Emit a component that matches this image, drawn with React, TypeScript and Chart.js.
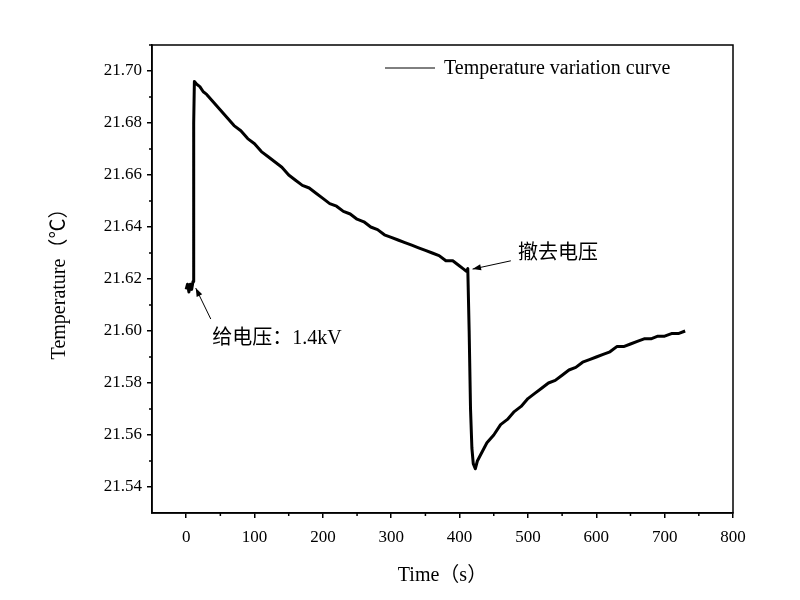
import React, { useEffect, useRef } from "react";
import { Chart, registerables } from "chart.js";
Chart.register(...registerables);

const times = [0,2,4,6,8,10,11,12,15,20,25,30,40,50,60,70,80,90,100,110,120,130,140,150,160,170,180,190,200,210,220,230,240,250,260,270,280,290,300,310,320,330,340,350,360,370,380,390,400,405,410,412,414,416,418,420,423,426,430,440,450,460,470,480,490,500,510,520,530,540,550,560,570,580,590,600,610,620,630,640,650,660,670,680,690,700,710,720,730];
const temps = [21.616,21.618,21.615,21.618,21.616,21.619,21.680,21.696,21.695,21.694,21.692,21.691,21.688,21.685,21.682,21.679,21.677,21.674,21.672,21.669,21.667,21.665,21.663,21.660,21.658,21.656,21.655,21.653,21.651,21.649,21.648,21.646,21.645,21.643,21.642,21.640,21.639,21.637,21.636,21.635,21.634,21.633,21.632,21.631,21.630,21.629,21.627,21.627,21.625,21.624,21.623,21.624,21.600,21.570,21.555,21.549,21.547,21.550,21.552,21.557,21.560,21.564,21.566,21.569,21.571,21.574,21.576,21.578,21.580,21.581,21.583,21.585,21.586,21.588,21.589,21.590,21.591,21.592,21.594,21.594,21.595,21.596,21.597,21.597,21.598,21.598,21.599,21.599,21.600];
const xTicks = [0,100,200,300,400,500,600,700,800];
const yTicks = [21.54,21.56,21.58,21.60,21.62,21.64,21.66,21.68,21.70];
const legendLabel = "Temperature variation curve";
const note1 = "给电压：1.4kV";
const note2 = "撤去电压";

const SERIF = "'Liberation Serif', 'Noto Sans CJK SC', serif";

function arrow(ctx: CanvasRenderingContext2D, x1: number, y1: number, x2: number, y2: number) {
  ctx.beginPath(); ctx.moveTo(x1, y1); ctx.lineTo(x2, y2); ctx.stroke();
  const a = Math.atan2(y2 - y1, x2 - x1), L = 9, w = 0.35;
  ctx.beginPath(); ctx.moveTo(x2, y2);
  ctx.lineTo(x2 - L * Math.cos(a - w), y2 - L * Math.sin(a - w));
  ctx.lineTo(x2 - L * Math.cos(a + w), y2 - L * Math.sin(a + w));
  ctx.closePath(); ctx.fill();
}

const deco = {
  id: "deco",
  afterDraw(chart: any) {
    const { ctx, chartArea: ca, scales } = chart;
    const xs = scales.x, ys = scales.y;
    ctx.save();
    ctx.strokeStyle = "#000"; ctx.fillStyle = "#000"; ctx.lineWidth = 1.5;
    ctx.strokeRect(ca.left, ca.top, ca.right - ca.left, ca.bottom - ca.top);
    for (let v = 50; v < 800; v += 100) { const p = xs.getPixelForValue(v); ctx.beginPath(); ctx.moveTo(p, ca.bottom); ctx.lineTo(p, ca.bottom + 3); ctx.stroke(); }
    for (let v = 21.55; v < 21.71; v += 0.02) { const p = ys.getPixelForValue(v); ctx.beginPath(); ctx.moveTo(ca.left, p); ctx.lineTo(ca.left - 3, p); ctx.stroke(); }
    ctx.lineWidth = 1;
    ctx.beginPath(); ctx.moveTo(385, 68); ctx.lineTo(435, 68); ctx.stroke();
    ctx.font = "20px " + SERIF; ctx.textBaseline = "middle"; ctx.textAlign = "left";
    ctx.fillText(legendLabel, 444, 69);
    arrow(ctx, xs.getPixelForValue(36), ys.getPixelForValue(21.6046), xs.getPixelForValue(14), ys.getPixelForValue(21.6165));
    ctx.fillText(note1, xs.getPixelForValue(38), ys.getPixelForValue(21.597));
    arrow(ctx, xs.getPixelForValue(475), ys.getPixelForValue(21.627), xs.getPixelForValue(419), ys.getPixelForValue(21.6238));
    ctx.fillText(note2, xs.getPixelForValue(485.5), ys.getPixelForValue(21.6296));
    ctx.restore();
  },
};

export default function App() {
  const ref = useRef<HTMLCanvasElement>(null);
  useEffect(() => {
    document.body.style.margin = "0";
    const chart = new Chart(ref.current!, {
      type: "line",
      data: { datasets: [{ data: times.map((t, i) => ({ x: t, y: temps[i] })), borderColor: "#000", borderWidth: 3, borderJoinStyle: "round", pointRadius: 0, tension: 0 }] },
      options: {
        animation: false, responsive: false, maintainAspectRatio: false,
        layout: { padding: { left: 48, right: 67, top: 45, bottom: 8 } },
        plugins: { legend: { display: false }, tooltip: { enabled: false } },
        scales: {
          x: {
            type: "linear", min: -50, max: 800,
            afterBuildTicks: (s: any) => { s.ticks = xTicks.map((v) => ({ value: v })); },
            afterFit: (s: any) => { s.height = 79; },
            grid: { drawOnChartArea: false, color: "#000", tickLength: 5, lineWidth: 1.5 },
            border: { color: "#000", width: 1.5 },
            ticks: { color: "#000", font: { family: SERIF, size: 17 }, padding: 9, maxRotation: 0 },
            title: { display: true, text: "Time（s）", color: "#000", font: { family: SERIF, size: 20 }, padding: { top: 4 } },
          },
          y: {
            type: "linear", min: 21.53, max: 21.71,
            afterBuildTicks: (s: any) => { s.ticks = yTicks.map((v) => ({ value: v })); },
            afterFit: (s: any) => { s.width = 104; },
            grid: { drawOnChartArea: false, color: "#000", tickLength: 5, lineWidth: 1.5 },
            border: { color: "#000", width: 1.5 },
            ticks: { color: "#000", font: { family: SERIF, size: 17 }, padding: 5, callback: (v: any) => Number(v).toFixed(2) },
            title: { display: true, text: "Temperature（℃）", color: "#000", font: { family: SERIF, size: 20 }, padding: 0 },
          },
        },
      },
      plugins: [deco],
    } as any);
    return () => chart.destroy();
  }, []);
  return <canvas ref={ref} width={800} height={600} style={{ display: "block" }} />;
}
